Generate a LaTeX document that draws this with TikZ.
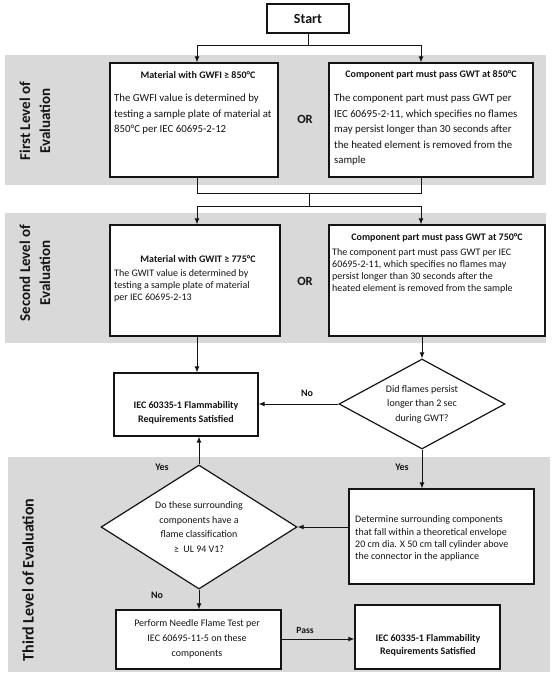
\documentclass[tikz,border=0pt]{standalone}
\usepackage{fontspec}
\setmainfont{Carlito}
\usetikzlibrary{arrows.meta,shapes.geometric}
\definecolor{band}{RGB}{217,217,217}
\definecolor{ink}{RGB}{20,20,20}
\begin{document}
\begin{tikzpicture}[x=1pt,y=-1pt,
  box/.style={draw=ink, line width=1.2pt, fill=white, inner sep=0pt},
  dia/.style={draw=ink, diamond, line width=1.2pt, fill=white, inner sep=0pt},
  conn/.style={draw=ink, line width=1pt},
  arr/.style={conn, -{Latex[length=6pt,width=5pt]}},
  bodyA/.style={inner sep=0pt, text=ink, align=left, anchor=west, font=\fontsize{10.8}{15.5}\selectfont},
  bodyB/.style={inner sep=0pt, text=ink, align=left, anchor=west, font=\fontsize{10}{12}\selectfont},
  ttl/.style={inner sep=0pt, text=ink, font=\bfseries\fontsize{10}{12}\selectfont},
  ortxt/.style={inner sep=0pt, text=ink, font=\bfseries\fontsize{12.5}{14}\selectfont},
  lbl/.style={inner sep=0pt, text=ink, font=\bfseries\fontsize{10}{12}\selectfont},
  level/.style={inner sep=0pt, text=ink, rotate=90, align=center, font=\bfseries\fontsize{15}{20}\selectfont},
]
\useasboundingbox (0,0) rectangle (554,674);
% bands
\fill[band] (5,55) rectangle (546,185);
\fill[band] (5,213) rectangle (546,343);
\fill[band] (8,457) rectangle (550,672);

% level labels
\node[level] (lev1) at (35,121) {First Level of\\Evaluation};
\node[level] (lev2) at (35,273) {Second Level of\\Evaluation};
\node[level, font=\bfseries\fontsize{16}{20}\selectfont] (lev3) at (28,580) {Third Level of Evaluation};

% boxes
\node[box, minimum width=82pt, minimum height=29pt, text=ink, font=\bfseries\fontsize{14}{16}\selectfont] (start) at (308,18.5) {Start};
\node[box, minimum width=168pt, minimum height=114pt] (m1) at (194,120) {};
\node[box, minimum width=204pt, minimum height=114pt] (c1) at (431,120) {};
\node[box, minimum width=170pt, minimum height=111pt] (m2) at (195,280.5) {};
\node[box, minimum width=216pt, minimum height=111pt] (c2) at (437,280.5) {};
\node[box, minimum width=144pt, minimum height=63pt] (r1) at (186,404.5) {};
\node[dia, minimum width=166pt, minimum height=90pt] (d1) at (422,404) {};
\node[box, minimum width=185pt, minimum height=95pt] (det) at (441.5,536.5) {};
\node[dia, minimum width=196pt, minimum height=124pt] (d2) at (199,527) {};
\node[box, minimum width=165pt, minimum height=59pt] (nf) at (198.5,639.5) {};
\node[box, minimum width=145pt, minimum height=64pt] (r2) at (427.5,637) {};

% texts
\node[ttl] (m1t) at (198,75) {Material with GWFI ≥ 850°C};
\node[bodyA] (m1b) at (114,114.5) {The GWFI value is determined by\\testing a sample plate of material at\\850°C per IEC 60695-2-12};
\node[ttl] (c1t) at (431,75) {Component part must pass GWT at 850°C};
\node[bodyA] (c1b) at (334,130) {The component part must pass GWT per\\IEC 60695-2-11, which specifies no flames\\may persist longer than 30 seconds after\\the heated element is removed from the\\sample};
\node[ortxt] (or1) at (305,119) {OR};

\node[ttl] (m2t) at (198,259) {Material with GWIT ≥ 775°C};
\node[bodyB] (m2b) at (114,285.5) {The GWIT value is determined by\\testing a sample plate of material\\per IEC 60695-2-13};
\node[ttl] (c2t) at (437,238) {Component part must pass GWT at 750°C};
\node[bodyB] (c2b) at (332,271) {The component part must pass GWT per IEC\\60695-2-11, which specifies no flames may\\persist longer than 30 seconds after the\\heated element is removed from the sample};
\node[ortxt] (or2) at (305,281) {OR};

\node[ttl, align=center, font=\bfseries\fontsize{10}{14}\selectfont] (r1t) at (186,413) {IEC 60335-1 Flammability\\Requirements Satisfied};
\node[inner sep=0pt, text=ink, align=center, font=\fontsize{10}{14.5}\selectfont] (d1t) at (422,404) {Did flames persist\\longer than 2 sec\\during GWT?};
\node[bodyB, font=\fontsize{10}{12.3}\selectfont] (dett) at (355,538.5) {Determine surrounding components\\that fall within a theoretical envelope\\20 cm dia. X 50 cm tall cylinder above\\the connector in the appliance};
\node[inner sep=0pt, text=ink, align=center, font=\fontsize{10}{14.7}\selectfont] (d2t) at (199,527) {Do these surrounding\\components have a\\flame classification\\≥~~UL 94 V1?};
\node[inner sep=0pt, text=ink, align=center, font=\fontsize{10}{15}\selectfont] (nft) at (197,639) {Perform Needle Flame Test per\\IEC 60695-11-5 on these\\components};
\node[ttl, align=center, font=\bfseries\fontsize{10}{13}\selectfont] (r2t) at (428,645) {IEC 60335-1 Flammability\\Requirements Satisfied};

% connectors
\coordinate (j1) at (308,46);
\coordinate (j2) at (309,193);
\coordinate (j3) at (309,206);
\draw[conn] (start.south) -- (j1);
\draw[arr] (j1) -| ([xshift=3pt]m1.north);
\draw[arr] (j1) -| ([xshift=-10pt]c1.north);
\draw[conn] ([xshift=3pt]m1.south) |- (j2);
\draw[conn] ([xshift=-10pt]c1.south) |- (j2);
\draw[conn] (j2) -- (j3);
\draw[arr] (j3) -| ([xshift=2pt]m2.north);
\draw[arr] (j3) -| ([xshift=-16pt]c2.north);
\draw[arr] ([xshift=2pt]m2.south) -- ([xshift=2pt]m2.south |- r1.north);
\draw[arr] (d1.north |- c2.south) -- (d1.north);
\draw[arr] (d1.west) -- (d1.west -| r1.east);
\draw[arr] (d1.south) -- (d1.south |- det.north);
\draw[arr] (d2.east -| det.west) -- (d2.east);
\draw[arr] (d2.north) -- (d2.north |- r1.south);
\draw[arr] (d2.south) -- (d2.south |- nf.north);
\draw[arr] (nf.east |- 0,639) -- (r2.west |- 0,639);

% connector labels
\node[lbl] (no1) at (307,393) {No};
\node[lbl] (yes1) at (402,467) {Yes};
\node[lbl] (yes2) at (162,467) {Yes};
\node[lbl] (no2) at (157,595) {No};
\node[lbl, font=\bfseries\fontsize{9.5}{11}\selectfont] (pass) at (305,630) {Pass};
\end{tikzpicture}
\end{document}
